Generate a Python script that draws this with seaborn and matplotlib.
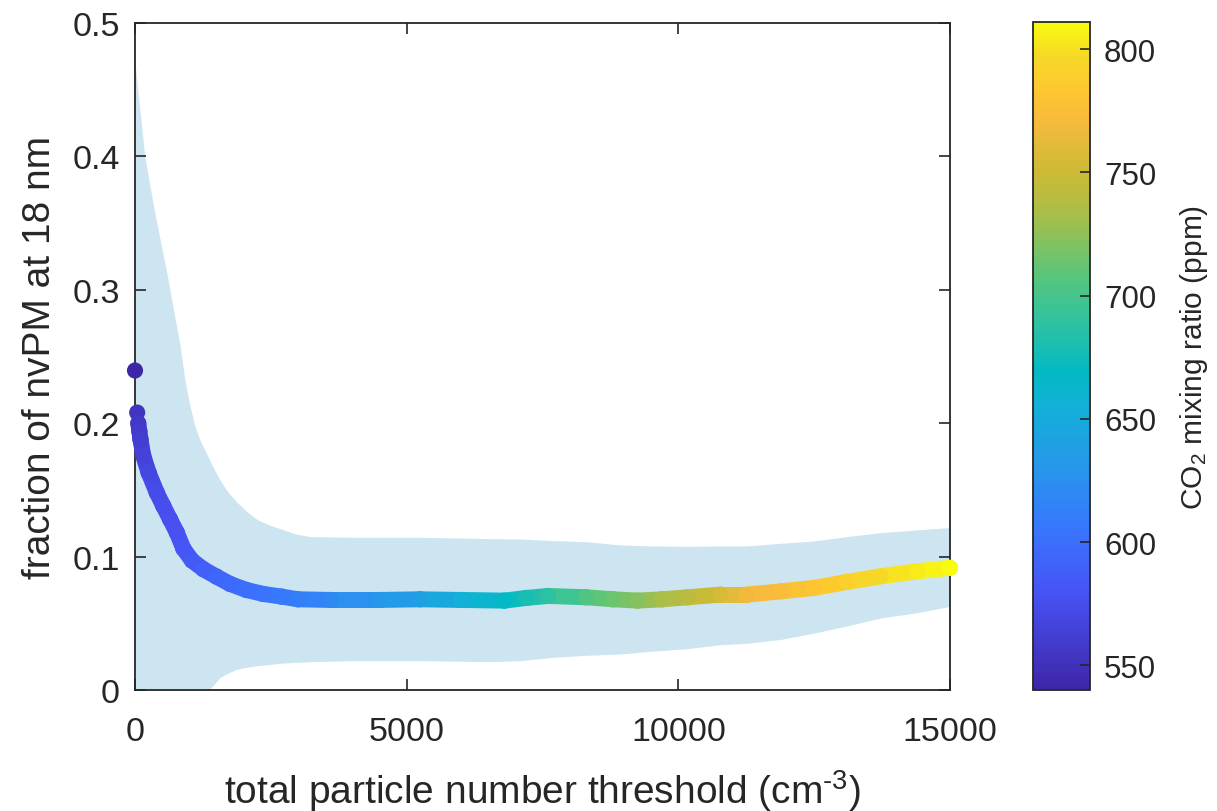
import numpy as np
import matplotlib
matplotlib.use("Agg")
import matplotlib.pyplot as plt
import seaborn as sns
from matplotlib.colors import LinearSegmentedColormap, Normalize
from matplotlib.collections import LineCollection
from matplotlib.cm import ScalarMappable

# ---------------- data ----------------
threshold = [0, 40, 60, 80, 100, 150, 250, 400, 520, 645, 770, 890, 1050, 1260,
             1500, 1750, 2050, 2360, 2700, 3000, 3600, 4500, 5250, 6000, 6800,
             7200, 7600, 8300, 8800, 9250, 9700, 10170, 10780, 11260, 11900,
             12490, 13100, 13730, 14400, 15000]
fraction = [0.2395, 0.208, 0.200, 0.194, 0.188, 0.176, 0.163, 0.148, 0.138, 0.128,
            0.118, 0.106, 0.097, 0.0905, 0.085, 0.0795, 0.075, 0.072, 0.070, 0.068,
            0.0675, 0.0675, 0.068, 0.0675, 0.067, 0.069, 0.0705, 0.0695, 0.068,
            0.067, 0.068, 0.0695, 0.0715, 0.0715, 0.074, 0.0765, 0.081, 0.0853,
            0.089, 0.0916]
co2 = [541, 552, 556, 559, 561, 565, 569, 573, 575, 577, 579, 581, 585, 589,
       593, 597, 600, 603, 607, 611, 620, 630, 640, 655, 668, 678, 688, 705,
       714, 723, 733, 742, 755, 768, 775, 782, 790, 797, 804, 810]

band_x = [0, 180, 340, 460, 585, 705, 830, 920, 1000, 1100, 1200, 1320, 1450, 1570,
          1700, 1870, 2050, 2240, 2450, 2670, 2950, 3220, 4000, 5250, 6500, 7100,
          7700, 8300, 8940, 9500, 10170, 10780, 11260, 11900, 12490, 13100, 13730,
          14400, 15000]
band_upper = [0.470, 0.400, 0.363, 0.338, 0.313, 0.286, 0.258, 0.232, 0.215, 0.198,
              0.187, 0.177, 0.166, 0.157, 0.149, 0.141, 0.134, 0.128, 0.124, 0.121,
              0.117, 0.115, 0.1145, 0.1145, 0.1135, 0.1132, 0.112, 0.1112, 0.1087,
              0.108, 0.1077, 0.108, 0.108, 0.110, 0.1117, 0.115, 0.118, 0.120,
              0.1218]
band_lower = [-0.05, -0.05, -0.05, -0.05, -0.05, -0.04, -0.03, -0.022, -0.016,
              -0.010, -0.005, -0.002, 0.004, 0.0095, 0.0125, 0.0155, 0.017, 0.0182,
              0.019, 0.020, 0.0207, 0.0212, 0.022, 0.022, 0.0212, 0.022, 0.0245,
              0.026, 0.027, 0.029, 0.031, 0.034, 0.035, 0.038, 0.0426, 0.048,
              0.054, 0.058, 0.0627]

x_ticks = [0, 5000, 10000, 15000]
y_ticks = [0, 0.1, 0.2, 0.3, 0.4, 0.5]
y_ticklabels = ["0", "0.1", "0.2", "0.3", "0.4", "0.5"]
cbar_ticks = [550, 600, 650, 700, 750, 800]
co2_range = (540, 811)

# ---------------- style ----------------
sns.set_theme(style="white")
TXT = "#262626"
plt.rcParams.update({
    "font.family": ["Liberation Sans", "DejaVu Sans"],
    "text.color": TXT,
    "axes.labelcolor": TXT,
    "xtick.color": TXT,
    "ytick.color": TXT,
    "axes.axisbelow": False,
    "xtick.bottom": True, "xtick.top": True,
    "ytick.left": True, "ytick.right": True,
    "xtick.direction": "in", "ytick.direction": "in",
    "xtick.major.size": 8, "ytick.major.size": 8,
    "xtick.major.width": 1.2, "ytick.major.width": 1.2,
    "mathtext.fontset": "custom",
    "mathtext.rm": "Liberation Sans",
    "mathtext.it": "Liberation Sans:italic",
    "mathtext.default": "regular",
})

parula = LinearSegmentedColormap.from_list("parula", [
    (0.000, (0.2422, 0.1504, 0.6603)),
    (0.143, (0.2810, 0.3228, 0.9579)),
    (0.238, (0.2206, 0.4603, 0.9973)),
    (0.333, (0.1540, 0.5902, 0.9218)),
    (0.429, (0.0689, 0.6948, 0.8394)),
    (0.476, (0.0067, 0.7293, 0.7664)),
    (0.556, (0.1938, 0.7636, 0.6188)),
    (0.619, (0.3406, 0.7760, 0.4865)),
    (0.714, (0.6658, 0.7440, 0.2810)),
    (0.778, (0.8050, 0.7300, 0.2100)),
    (0.857, (0.9728, 0.7298, 0.2386)),
    (0.905, (0.9970, 0.7866, 0.1800)),
    (0.952, (0.9639, 0.8555, 0.1525)),
    (1.000, (0.9763, 0.9831, 0.0538)),
])
norm = Normalize(*co2_range)

W, H = 1217, 812
fig = plt.figure(figsize=(W / 100, H / 100), dpi=100)
ax = fig.add_axes([135 / W, 1 - 691 / H, (950 - 135) / W, (691 - 24) / H])
cax = fig.add_axes([1033 / W, 1 - 691 / H, (1090 - 1033) / W, (691 - 23) / H])

# uncertainty band (below the axis ticks)
ax.fill_between(band_x, band_lower, band_upper, color="#cde5f0", linewidth=0, zorder=0.1)

# connecting thick line coloured by CO2
xs = np.array(threshold, dtype=float)
ys = np.array(fraction, dtype=float)
cs = np.array(co2, dtype=float)
start = 2
pts = np.column_stack([xs[start:], ys[start:]])
segs = np.stack([pts[:-1], pts[1:]], axis=1)
lc = LineCollection(segs, cmap=parula, norm=norm, linewidths=11.5, capstyle="round",
                    joinstyle="round", zorder=3)
lc.set_array(0.5 * (cs[start:-1] + cs[start + 1:]))
lc.set_clip_on(False)
ax.add_collection(lc)

sns.scatterplot(x=threshold, y=fraction, hue=co2, palette=parula, hue_norm=norm,
                s=135, linewidth=0, legend=False, ax=ax, zorder=3.1, clip_on=False)

ax.set_xlim(0, 15000)
ax.set_ylim(0, 0.5)
ax.set_xticks(x_ticks)
ax.set_xticklabels([str(t) for t in x_ticks])
ax.set_yticks(y_ticks)
ax.set_yticklabels(y_ticklabels)
ax.tick_params(which="major", direction="in", top=True, right=True, bottom=True,
               left=True, length=8, width=1.2, labelsize=24.5, color=TXT,
               labelcolor=TXT)
ax.tick_params(axis="x", pad=19)
ax.tick_params(axis="y", pad=11)
ax.xaxis.set_zorder(2.5)
ax.yaxis.set_zorder(2.5)
for sp in ax.spines.values():
    sp.set_color(TXT)
    sp.set_linewidth(1.3)
    sp.set_visible(True)
    sp.set_zorder(2.5)
ax.set_xlabel("total particle number threshold (cm$^{\u20103}$)", fontsize=28, labelpad=14)
ax.set_ylabel("fraction of nvPM at 18 nm", fontsize=28, labelpad=10)

sm = ScalarMappable(norm=norm, cmap=parula)
cb = fig.colorbar(sm, cax=cax)
cb.set_ticks(cbar_ticks)
cb.ax.tick_params(direction="in", left=False, right=True, length=7, width=1.2,
                  labelsize=22.5, color=TXT, labelcolor=TXT, pad=10)
cb.outline.set_edgecolor(TXT)
cb.outline.set_linewidth(1.3)
cb.set_label("CO$_2$ mixing ratio (ppm)", fontsize=21.5, color=TXT, labelpad=16)

fig.savefig("out.png", dpi=100, facecolor="white")
